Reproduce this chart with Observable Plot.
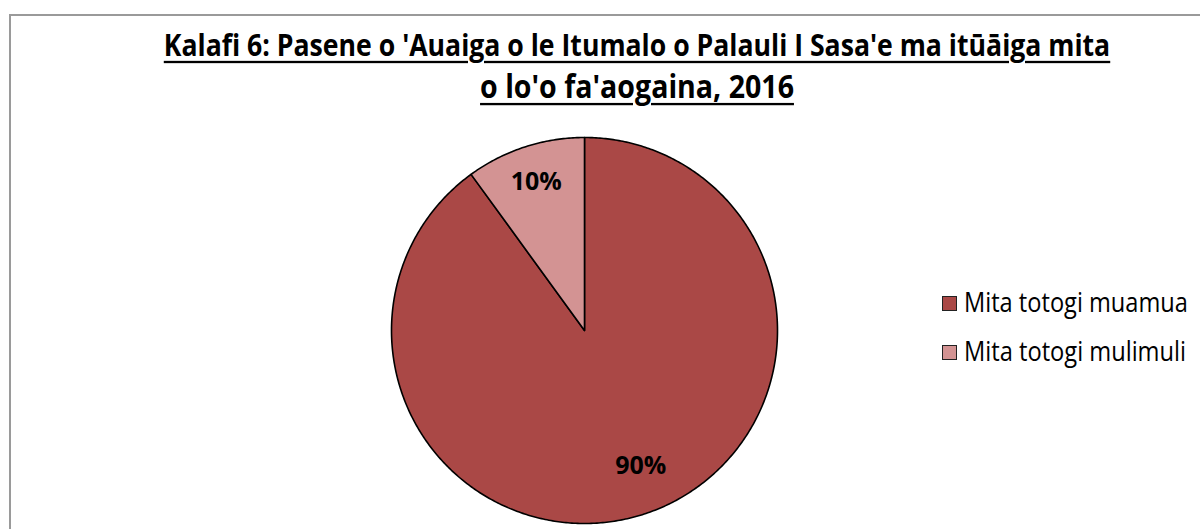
<!DOCTYPE html>
<html>
<head>
<meta charset="utf-8">
<script src="https://cdn.jsdelivr.net/npm/d3@7"></script>
<script src="https://cdn.jsdelivr.net/npm/@observablehq/plot@0.6"></script>
<style>
  html, body { margin: 0; padding: 0; background: #fff; }
  #wrap { position: relative; width: 1200px; height: 529px; overflow: hidden; background: #fff;
    font-family: "Liberation Sans Narrow", "Arial Narrow", "Open Sans", sans-serif; }
  #frame { position: absolute; left: 9px; top: 14px; width: 1300px; height: 600px; border: 2px solid #9a9a9a; box-sizing: border-box; }
  #chart { position: absolute; left: 0; top: 0; }
  .tline { position: absolute; white-space: nowrap; font-weight: bold; text-decoration: underline;
    text-decoration-thickness: 2px; text-underline-offset: 4px; line-height: 1; color: #000; font-size: 28px;
    transform-origin: 50% 80%; transform: scaleY(1.15); }
  .leg { position: absolute; white-space: nowrap; line-height: 1; font-size: 24px; color: #000;
    transform-origin: 0 80%; transform: scaleY(1.12); }
  .sw { position: absolute; width: 13px; height: 13px; border: 1.5px solid #222; }
</style>
</head>
<body>
<div id="wrap">
  <div id="frame"></div>
  <div id="chart"></div>
</div>
<script>
const titleLines = ["Kalafi 6: Pasene o 'Auaiga o le Itumalo o Palauli I Sasa'e ma itūāiga mita", "o lo'o fa'aogaina, 2016"];
const categories = ["Mita totogi muamua", "Mita totogi mulimuli"];
const values = [90, 10];
const labels = ["90%", "10%"];
const colors = ["#AA4846", "#D39393"];

const pie = d3.pie().sort(null).value(d => d)(values);
const slices = [];
pie.forEach((p, i) => {
  const n = Math.max(4, Math.ceil((p.endAngle - p.startAngle) / 0.01));
  slices.push({cat: categories[i], x: 0, y: 0});
  for (let k = 0; k <= n; k++) {
    const a = p.startAngle + (p.endAngle - p.startAngle) * k / n;
    slices.push({cat: categories[i], x: Math.sin(a), y: Math.cos(a)});
  }
  slices.push({cat: categories[i], x: 0, y: 0});
});
const labelData = pie.map((p, i) => {
  const a = (p.startAngle + p.endAngle) / 2 - (i === 0 ? 0.08 : 0);
  const r = i === 0 ? 0.76 : 0.81;
  return {text: labels[i], x: Math.sin(a) * r, y: Math.cos(a) * r};
});

const cx = 584, cy = 330, R = 193;
const chart = Plot.plot({
  width: 1200, height: 529,
  marginLeft: cx - R, marginRight: 1200 - (cx + R),
  marginTop: cy - R, marginBottom: 529 - (cy + R),
  x: {domain: [-1, 1], axis: null},
  y: {domain: [-1, 1], axis: null},
  color: {domain: categories, range: colors},
  style: {background: "transparent", overflow: "visible"},
  marks: [
    Plot.line(slices, {x: "x", y: "y", z: "cat", fill: "cat", stroke: "#000", strokeWidth: 1.6, strokeLinejoin: "round"}),
    Plot.text(labelData, {x: "x", y: "y", text: "text", fontSize: 25, fontWeight: "bold", fill: "#000",
      fontFamily: "Liberation Sans Narrow, Arial Narrow, Open Sans, sans-serif"})
  ]
});
document.getElementById("chart").appendChild(chart);

const wrap = document.getElementById("wrap");
function fit(el, target) {
  const w = el.getBoundingClientRect().width;
  const fs = parseFloat(getComputedStyle(el).fontSize);
  if (w > 0) el.style.fontSize = (fs * target / w) + "px";
}
// title
const tWidths = [947, 314];
const tTops = [33, 73];
titleLines.forEach((t, i) => {
  const d = document.createElement("div");
  d.className = "tline";
  d.textContent = t;
  wrap.appendChild(d);
  fit(d, tWidths[i]);
  const w = d.getBoundingClientRect().width;
  d.style.left = (637 - w / 2) + "px";
  d.style.top = tTops[i] + "px";
});
// legend
const legTops = [296, 345];
categories.forEach((c, i) => {
  const s = document.createElement("div");
  s.className = "sw";
  s.style.background = colors[i];
  s.style.left = "942px";
  s.style.top = (legTops[i]) + "px";
  wrap.appendChild(s);
  const t = document.createElement("div");
  t.className = "leg";
  t.textContent = c;
  wrap.appendChild(t);
  fit(t, i === 0 ? 224 : 222);
  t.style.left = "964px";
  t.style.top = (legTops[i] - 4) + "px";
});
</script>
</body>
</html>
